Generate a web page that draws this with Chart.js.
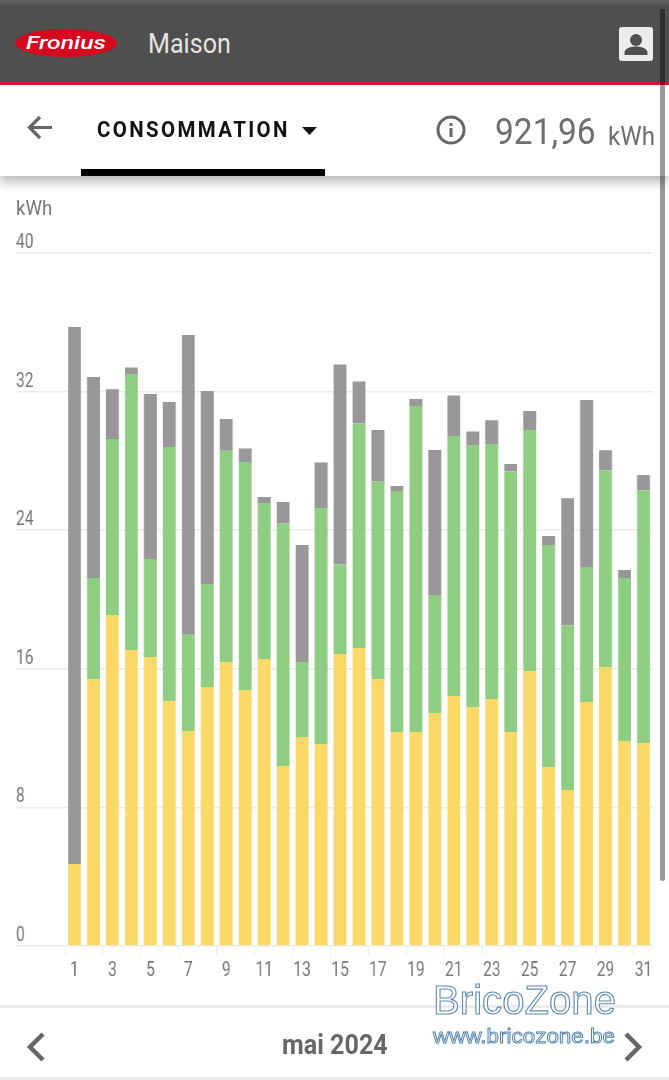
<!DOCTYPE html>
<html lang="fr">
<head>
<meta charset="utf-8">
<title>Consommation mai 2024</title>
<script src="https://cdn.jsdelivr.net/npm/chart.js@4"></script>
<style>
  html, body { margin: 0; padding: 0; background: #fff; overflow: hidden; }
  #page { position: relative; width: 669px; height: 1080px; overflow: hidden; font-family: Roboto, sans-serif; }
  #page > * { position: absolute; }
  .txt { white-space: nowrap; line-height: 1; transform-origin: 0 50%; transform: scaleX(0.93); }
  #header { left: 0; top: 0; width: 669px; height: 82px; background: linear-gradient(#626262 0, #4f4f4f 7px); border-bottom: 3px solid #d8132f; }
  #subbar { left: 0; top: 85px; width: 669px; height: 91px; background: #fff; box-shadow: 0 6px 10px rgba(0,0,0,.28); }
  #tabline { left: 81px; top: 169px; width: 244px; height: 7px; background: #000; }
  #chartCanvas { left: 0; top: 0; transform-origin: 0 0; transform: scaleX(0.78); }
  #scrollbar { left: 660px; top: 9px; width: 5px; height: 872px; background: rgba(0,0,0,.4); border-radius: 0 0 3px 3px; }
  .rule { left: 0; width: 669px; height: 3px; background: #ececec; }
</style>
</head>
<body>
<div id="page">
  <canvas id="chartCanvas"></canvas>

  <div id="subbar"></div>
  <div id="tabline"></div>
  <div id="header"></div>

  <svg style="left:14px;top:27px" width="106" height="32">
    <ellipse cx="52" cy="16" rx="51" ry="14" fill="#d8061f"/>
    <text x="12" y="22" font-family="Roboto" font-size="19" font-weight="500" font-style="italic" fill="#fff" textLength="80" lengthAdjust="spacingAndGlyphs">Fronius</text>
  </svg>
  <div class="txt" style="left:148px;top:31px;font-size:27px;color:#e4e4e4">Maison</div>

  <svg style="left:619px;top:27px" width="34" height="34">
    <rect width="34" height="34" rx="3" fill="#ececec"/>
    <circle cx="17" cy="13" r="6" fill="#4f4f4f"/>
    <path d="M5.500 28v-2.500c0-4.500 7.500-6 11.500-6s11.500 1.500 11.500 6V28z" fill="#4f4f4f"/>
  </svg>

  <svg style="left:25px;top:112px" width="32" height="32">
    <path d="M27 15.500H5M15 5 4.500 15.500 15 26" fill="none" stroke="#666" stroke-width="3.200"/>
  </svg>
  <div class="txt" style="left:97px;top:119px;font-size:22px;font-weight:700;letter-spacing:2.550px;color:#111">CONSOMMATION</div>
  <svg style="left:300px;top:125px" width="20" height="12"><path d="M2 2h15l-7.500 8z" fill="#111"/></svg>

  <svg style="left:435px;top:114px" width="32" height="32">
    <circle cx="16" cy="16" r="13" fill="none" stroke="#666" stroke-width="3"/>
    <rect x="14.500" y="14" width="3" height="9" fill="#666"/>
    <rect x="14.500" y="9" width="3" height="3" fill="#666"/>
  </svg>
  <div class="txt" style="left:495px;top:114px;font-size:36px;color:#6e6e6e">921,96</div>
  <div class="txt" style="left:608px;top:123px;font-size:26px;color:#6e6e6e">kWh</div>

  <div class="txt" style="left:16px;top:198px;font-size:20px;color:#777">kWh</div>

  <div class="rule" style="top:1005px"></div>
  <div class="rule" style="top:1077px"></div>
  <svg style="left:22px;top:1030px" width="28" height="34">
    <path d="M21 4 8 17l13 13" fill="none" stroke="#666" stroke-width="4.500"/>
  </svg>
  <div class="txt" style="left:282px;top:1032px;font-size:27px;font-weight:700;color:#666">mai 2024</div>
  <svg style="left:619px;top:1030px" width="28" height="34">
    <path d="M7 4l13 13L7 30" fill="none" stroke="#666" stroke-width="4.500"/>
  </svg>

  <svg style="left:425px;top:978px" width="200" height="74">
    <text x="8" y="36" font-family="Liberation Sans" font-size="40" fill="#fff" fill-opacity=".75" stroke="#5f8db3" stroke-width="1.100" textLength="183" lengthAdjust="spacingAndGlyphs">BricoZone</text>
    <text x="8" y="65" font-family="Liberation Sans" font-size="20" fill="#fff" fill-opacity=".75" stroke="#4f83ad" stroke-width=".9" textLength="182" lengthAdjust="spacingAndGlyphs">www.bricozone.be</text>
  </svg>

  <div id="scrollbar"></div>
</div>

<script>
// kWh per day, stacked bottom to top
const days = [1,2,3,4,5,6,7,8,9,10,11,12,13,14,15,16,17,18,19,20,21,22,23,24,25,26,27,28,29,30,31];
const solarDirect = [4.73,15.41,19.11,17.08,16.68,14.14,12.41,14.95,16.39,14.78,16.57,10.39,12.06,11.66,16.85,17.2,15.41,12.35,12.35,13.45,14.43,13.8,14.26,12.35,15.87,10.33,9,14.08,16.1,11.83,11.72];
const battery = [0,5.83,10.16,15.93,5.66,14.66,5.6,5.95,12.24,13.16,9,14,4.33,13.62,5.19,12.96,11.4,13.91,18.82,6.81,15.01,15.12,14.72,15.04,13.91,12.81,9.52,7.79,11.34,9.41,14.57];
const grid = [31,11.6,2.86,0.38,9.52,2.6,17.26,11.14,1.79,0.78,0.35,1.24,6.75,2.63,11.52,2.42,2.97,0.29,0.4,8.37,2.34,0.78,1.36,0.43,1.1,0.52,7.33,9.64,1.18,0.46,0.89];
const yMax = 40;
const yStep = 8;

// The canvas is drawn wider and squeezed with CSS so the text gets narrow
const squeeze = 0.78;
const pageHeight = 1080;
const labelLeft = 16 / squeeze;
const areaLeft = 65 / squeeze;
const areaRight = 653.5 / squeeze;
const canvasWidth = 669 / squeeze;

const canvas = document.getElementById("chartCanvas");
canvas.width = canvasWidth;
canvas.height = pageHeight;

const tickFont = { family: "Roboto", size: 20 };
const tickColor = "#777777";
const lineColor = "#ececec";

new Chart(canvas.getContext("2d"), {
  type: "bar",
  data: {
    labels: days,
    datasets: [
      { label: "Solaire", data: solarDirect, backgroundColor: "#fbd968" },
      { label: "Batterie", data: battery, backgroundColor: "#8fce82" },
      { label: "Réseau", data: grid, backgroundColor: "#999799" }
    ]
  },
  options: {
    responsive: false,
    animation: false,
    barPercentage: 0.68,
    categoryPercentage: 1,
    layout: { padding: { top: 253, bottom: pageHeight - 946 - 36, right: canvasWidth - areaRight, left: labelLeft } },
    plugins: { legend: { display: false }, tooltip: { enabled: false } },
    scales: {
      x: {
        stacked: true,
        afterFit: scale => { scale.height = 36; },
        border: { display: false },
        grid: {
          drawOnChartArea: false,
          tickLength: 10,
          tickWidth: 1,
          tickColor: ctx => (ctx.index % 2 === 0 ? lineColor : "transparent")
        },
        ticks: {
          font: tickFont,
          color: tickColor,
          padding: 3,
          autoSkip: false,
          maxRotation: 0,
          callback: function (value, index) {
            return index % 2 === 0 ? this.getLabelForValue(value) : "";
          }
        }
      },
      y: {
        stacked: true,
        min: 0,
        max: yMax,
        afterFit: scale => { scale.width = areaLeft - labelLeft; },
        border: { display: false },
        grid: { color: lineColor, lineWidth: 1.5, tickLength: areaLeft - labelLeft },
        ticks: {
          stepSize: yStep,
          font: tickFont,
          color: tickColor,
          crossAlign: "far",
          labelOffset: -10
        }
      }
    }
  }
});
</script>
</body>
</html>
